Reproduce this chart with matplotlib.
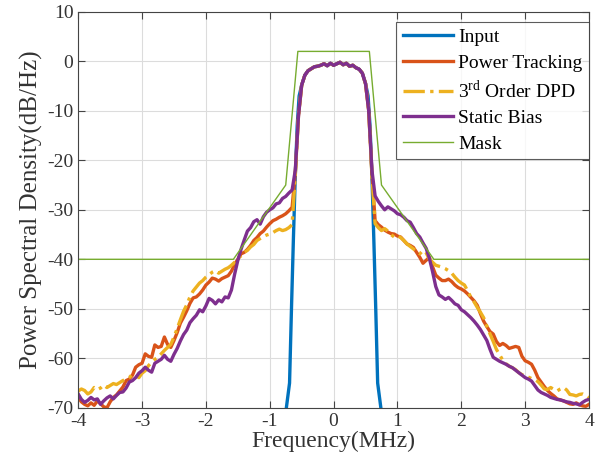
import numpy as np
import matplotlib
matplotlib.use("Agg")
import matplotlib.pyplot as plt

plt.rcParams['font.family'] = ['Liberation Serif', 'DejaVu Serif']
plt.rcParams['mathtext.fontset'] = 'custom'
plt.rcParams['mathtext.rm'] = 'Liberation Serif'
plt.rcParams['axes.unicode_minus'] = False

# frequency grid (MHz), 0.05 MHz step
freq = np.round(np.arange(-4.0, 4.0001, 0.05), 2)

# shared in-band part, -0.45 .. 0.45 MHz
inband_db = [-2.8, -1.9, -1.5, -1.1, -1.0, -0.8, -0.5, -0.9, -0.4, -0.8,
             -0.5, -0.2, -0.7, -0.4, -1.0, -0.8, -1.3, -1.6, -2.4]

# Power Tracking: -4.00 .. -0.50 and 0.50 .. 4.00
pt_left = [-67.9, -68.8, -69.3, -69.6, -69.0, -69.5, -68.6, -69.2, -69.8, -70.0,
           -68.8, -67.9, -67.4, -66.6, -65.8, -64.5, -64.2, -63.4, -61.8, -61.3,
           -61.0, -59.1, -59.6, -59.8, -57.3, -57.8, -57.6, -55.7, -57.2, -57.8,
           -56.4, -54.8, -52.9, -51.7, -50.4, -48.9, -47.8, -47.6, -47.0, -46.2,
           -45.2, -44.6, -43.8, -44.0, -44.4, -43.9, -43.6, -43.3, -42.4, -41.0,
           -40.0, -38.9, -38.6, -38.0, -37.2, -36.2, -35.6, -34.8, -34.3, -33.5,
           -32.8, -32.2, -31.9, -31.5, -31.2, -30.8, -30.2, -29.5, -22.5, -11.0,
           -4.8]
pt_right = [-4.5, -10.0, -22.5, -32.2, -33.0, -33.5, -34.1, -34.5, -34.8, -34.9,
            -35.3, -35.5, -36.2, -36.9, -37.2, -37.6, -38.6, -39.6, -40.8, -40.2,
            -39.6, -41.5, -43.2, -43.8, -44.3, -44.3, -44.0, -44.5, -45.2, -45.7,
            -46.0, -46.4, -47.0, -47.7, -48.4, -49.3, -51.0, -52.5, -53.6, -54.6,
            -55.1, -56.6, -57.4, -57.0, -57.4, -58.0, -57.8, -57.6, -57.8, -59.6,
            -60.5, -60.8, -61.2, -62.4, -63.9, -64.8, -65.7, -66.5, -67.1, -67.6,
            -68.2, -68.4, -68.6, -68.9, -69.2, -69.3, -69.0, -69.4, -69.6, -69.7,
            -69.3]

# 3rd Order DPD
dpd_left = [-66.6, -66.2, -66.5, -67.2, -66.8, -65.9, -66.3, -66.0, -65.4, -65.9,
            -65.5, -65.1, -65.3, -64.9, -64.5, -64.2, -63.9, -63.2, -63.4, -63.9,
            -63.0, -62.5, -61.5, -60.8, -60.2, -59.8, -59.1, -58.4, -57.8, -57.2,
            -55.7, -54.0, -52.2, -50.5, -49.2, -47.6, -46.4, -45.6, -44.8, -44.3,
            -43.6, -43.1, -42.6, -42.3, -42.8, -42.4, -42.0, -41.7, -41.2, -40.6,
            -39.8, -39.3, -38.6, -38.2, -37.5, -37.0, -36.2, -35.8, -35.4, -35.1,
            -34.9, -34.6, -34.2, -33.9, -34.2, -34.0, -33.6, -33.0, -23.0, -11.0,
            -4.8]
dpd_right = [-4.5, -10.0, -23.0, -32.8, -33.6, -34.2, -33.8, -34.3, -35.0, -35.5,
             -35.2, -35.6, -36.2, -36.9, -37.4, -37.9, -38.4, -38.9, -38.2, -38.7,
             -40.0, -40.6, -41.2, -41.4, -41.6, -41.9, -42.3, -42.8, -43.6, -44.3,
             -44.8, -45.2, -46.4, -47.7, -48.6, -49.7, -50.7, -51.8, -53.5, -55.1,
             -56.6, -58.2, -59.3, -60.4, -61.1, -61.6, -61.9, -62.3, -62.9, -63.3,
             -63.5, -63.8, -64.1, -64.3, -64.7, -65.4, -66.2, -66.3, -65.9, -66.3,
             -66.6, -66.2, -65.9, -66.4, -67.3, -67.4, -67.6, -67.3, -67.2, -67.5,
             -68.0]

# Static Bias
sb_left = [-67.2, -68.3, -68.9, -68.5, -67.9, -68.4, -68.2, -69.3, -68.6, -68.0,
           -67.6, -68.2, -67.5, -66.9, -66.8, -66.0, -64.8, -64.5, -63.9, -63.0,
           -62.5, -61.8, -62.4, -62.8, -61.0, -60.6, -60.2, -59.4, -60.2, -60.6,
           -59.2, -58.0, -56.5, -55.2, -54.3, -52.8, -52.0, -51.3, -50.2, -50.6,
           -49.4, -47.9, -48.3, -49.0, -48.2, -48.6, -47.6, -47.8, -46.2, -43.0,
           -40.2, -38.0, -36.1, -34.3, -33.6, -32.4, -32.0, -32.9, -31.4, -30.5,
           -30.0, -29.6, -28.8, -28.6, -27.7, -27.3, -26.6, -26.0, -22.0, -11.0,
           -4.8]
sb_right = [-4.5, -10.0, -22.0, -27.2, -28.3, -29.2, -30.0, -29.4, -29.8, -30.2,
            -30.8, -31.0, -31.5, -32.2, -32.5, -33.6, -34.8, -35.5, -36.7, -37.8,
            -39.8, -42.5, -45.5, -47.2, -47.6, -48.1, -47.7, -48.3, -49.0, -49.3,
            -50.2, -50.6, -51.2, -51.8, -52.5, -53.3, -54.2, -55.3, -56.4, -58.2,
            -59.8, -60.2, -60.6, -60.9, -61.2, -61.6, -61.9, -62.4, -62.9, -63.4,
            -63.9, -64.2, -64.6, -65.5, -66.4, -66.9, -67.2, -67.5, -67.9, -68.1,
            -68.3, -68.4, -68.6, -68.8, -68.9, -69.1, -69.2, -69.4, -68.9, -68.5,
            -68.3]

# Input signal (only the band edges differ)
input_freq_left = [-0.75, -0.72, -0.69, -0.66, -0.63, -0.60, -0.57, -0.54, -0.50]
input_left = [-71.0, -68.0, -65.0, -50.0, -36.0, -23.0, -13.0, -7.0, -4.8]
input_freq_right = [0.50, 0.54, 0.57, 0.60, 0.63, 0.66, 0.69, 0.72, 0.75]
input_right = [-4.5, -7.0, -13.0, -23.0, -36.0, -50.0, -65.0, -68.0, -71.0]

# Spectral mask
mask_freq = [-4.0, -1.57, -0.75, -0.56, 0.56, 0.75, 1.57, 4.0]
mask_db = [-40, -40, -25, 2, 2, -25, -40, -40]

inband_freq = freq[(freq > -0.5) & (freq < 0.5)]
input_freq = np.concatenate([input_freq_left, inband_freq, input_freq_right])
input_db = np.concatenate([input_left, inband_db, input_right])
pt_db = np.concatenate([pt_left, inband_db, pt_right])
dpd_db = np.concatenate([dpd_left, inband_db, dpd_right])
sb_db = np.concatenate([sb_left, inband_db, sb_right])

fig = plt.figure(figsize=(6.11, 4.72), dpi=100)
ax = fig.add_axes([0.128, 0.136, 0.836, 0.839])

ax.plot(input_freq, input_db, color='#0072BD', lw=2.4, label='Input')
ax.plot(freq, pt_db, color='#D95319', lw=2.4, label='Power Tracking')
ax.plot(freq, dpd_db, color='#EDB120', lw=2.4, ls='-.',
        label=r'3$^{\mathrm{rd}}$ Order DPD')
ax.plot(freq, sb_db, color='#7E2F8E', lw=2.4, label='Static Bias')
ax.plot(mask_freq, mask_db, color='#77AC30', lw=1.0, label='Mask')

ax.set_xlim(-4, 4)
ax.set_ylim(-70, 10)
ax.set_xticks(range(-4, 5))
ax.set_yticks(range(-70, 11, 10))
ax.grid(True, color='#dcdcdc', lw=0.8)
ax.set_axisbelow(True)
ax.tick_params(direction='in', labelsize=14, length=5, color='#444444',
               labelcolor='#333333', top=True, right=True)
for s in ax.spines.values():
    s.set_color('#444444')
    s.set_linewidth(0.8)

ax.set_xlabel('Frequency(MHz)', fontsize=17, labelpad=1, color='#333333')
ax.set_ylabel('Power Spectral Density(dB/Hz)', fontsize=18, labelpad=3,
              color='#333333')

leg = ax.legend(loc='upper right', bbox_to_anchor=(1.0, 0.975), fontsize=14,
                frameon=True, fancybox=False, edgecolor='#333333',
                handlelength=2.6, handletextpad=0.25, borderpad=0.35,
                labelspacing=0.4, borderaxespad=0.0)
leg.get_frame().set_linewidth(0.8)

fig.savefig('out.png', dpi=100)
